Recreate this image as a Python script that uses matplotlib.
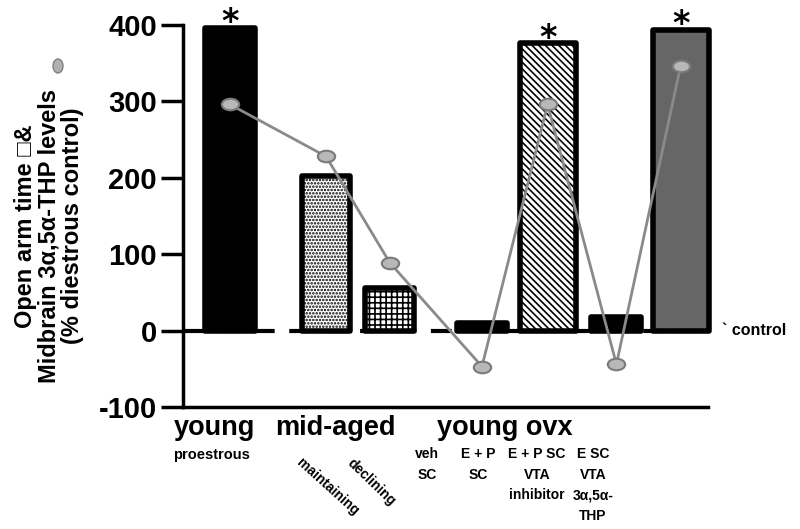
import matplotlib
matplotlib.use("Agg")
import matplotlib.pyplot as plt
from matplotlib.path import Path
from matplotlib.transforms import Affine2D
from matplotlib.patches import Ellipse

plt.rcParams['font.family'] = ['Liberation Sans', 'DejaVu Sans']
plt.rcParams['font.weight'] = 'bold'
plt.rcParams['hatch.linewidth'] = 1.2
plt.rcParams['axes.unicode_minus'] = False

# data (% diestrous control)
groups = ['young', 'maintaining', 'declining', 'veh SC', 'E + P SC',
          'E + P SC VTA inhibitor', 'E SC VTA 3a,5a-THP']
open_arm = [396, 203, 56, 10, 376, 18, 394]
thp_levels = [296, 228, 89, -47, 296, -44, 347]
signif = [True, False, False, False, True, False, True]
sub_labels = ['proestrous', 'maintaining', 'declining', 'veh\nSC', 'E + P\nSC',
              'E + P SC\nVTA\ninhibitor', 'E SC\nVTA\n3α,5α-\nTHP']

# layout
pos = [0, 1.48, 2.46, 3.88, 4.89, 5.95, 6.94]
widths = [0.76, 0.74, 0.76, 0.78, 0.86, 0.77, 0.86]
faces = ['black', 'white', 'white', 'black', 'white', 'black', '#666666']
hatches = [None, '.....', '+++', None, '\\\\\\\\\\', None, None]

fig = plt.figure(figsize=(8, 5.29), dpi=100)
ax = fig.add_axes([0.229, 0.2306, 0.656, 0.7221])

ax.axhline(0, color='black', lw=3, dashes=(5, 3.5), zorder=1)

for i in range(len(groups)):
    ax.bar(pos[i], open_arm[i], width=widths[i], color=faces[i], edgecolor='black',
           linewidth=4, hatch=hatches[i], zorder=2, clip_on=False, joinstyle='round')
    if signif[i]:
        ax.annotate('*', (pos[i], open_arm[i]), xytext=(0, -3), textcoords='offset points',
                    ha='center', va='baseline', fontsize=24, fontweight='bold',
                    family='DejaVu Sans', annotation_clip=False)

ell = Affine2D().scale(1.5, 1.0).transform_path(Path.unit_circle())
ax.plot(pos, thp_levels, color='#8a8a8a', lw=2, marker=ell, markersize=12.5,
        markerfacecolor='#b8b8b8', markeredgecolor='#7a7a7a', markeredgewidth=1.5,
        zorder=4, clip_on=False)

ax.set_xlim(-0.72, 7.36)
ax.set_ylim(-100, 400)
ax.set_yticks([-100, 0, 100, 200, 300, 400])
ax.tick_params(axis='y', length=16, width=2.5, pad=3, labelsize=21)
ax.tick_params(axis='x', bottom=False, labelbottom=False)
for lab in ax.get_yticklabels():
    lab.set_fontweight('bold')
for s in ['top', 'right']:
    ax.spines[s].set_visible(False)
for s in ['left', 'bottom']:
    ax.spines[s].set_linewidth(2.5)

tr = ax.get_xaxis_transform()
# group labels
ax.text(-0.24, -0.073, 'young', transform=tr, ha='center', va='baseline', fontsize=19.5)
ax.text(1.63, -0.073, 'mid-aged', transform=tr, ha='center', va='baseline', fontsize=19.5)
ax.text(4.23, -0.073, 'young ovx', transform=tr, ha='center', va='baseline', fontsize=19.5)

# sub labels
ax.text(-0.87, -0.136, sub_labels[0], transform=tr, ha='left', va='baseline', fontsize=10.5)
ax.text(1.50, -0.209, sub_labels[1], transform=tr, ha='center', va='center', fontsize=10,
        rotation=-42, rotation_mode='anchor')
ax.text(2.17, -0.196, sub_labels[2], transform=tr, ha='center', va='center', fontsize=10,
        rotation=-44, rotation_mode='anchor')
sub_x = [3.03, 3.82, 4.73, 5.59]
for x, lab in zip(sub_x, sub_labels[3:]):
    ax.text(x, -0.105, lab, transform=tr, ha='center', va='top', fontsize=10,
            multialignment='center', linespacing=1.6)

# control label
ax.annotate('` control', xy=(1.0, 0), xycoords=('axes fraction', 'data'),
            xytext=(10, 0), textcoords='offset points', ha='left', va='center',
            fontsize=11.5, annotation_clip=False)

# y label
fig.text(0.061, 1 - 226 / 529,
         'Open arm time □&\nMidbrain 3α,5α-THP levels   \n(% diestrous control)',
         rotation=90, ha='center', va='center', multialignment='center',
         fontsize=17, linespacing=1.02)
fig.patches.append(Ellipse((58 / 800, 1 - 66 / 529), 10 / 800, 14 / 529,
                           transform=fig.transFigure, facecolor='#b0b0b0',
                           edgecolor='#808080', lw=1))

fig.savefig('out.png', dpi=100)
